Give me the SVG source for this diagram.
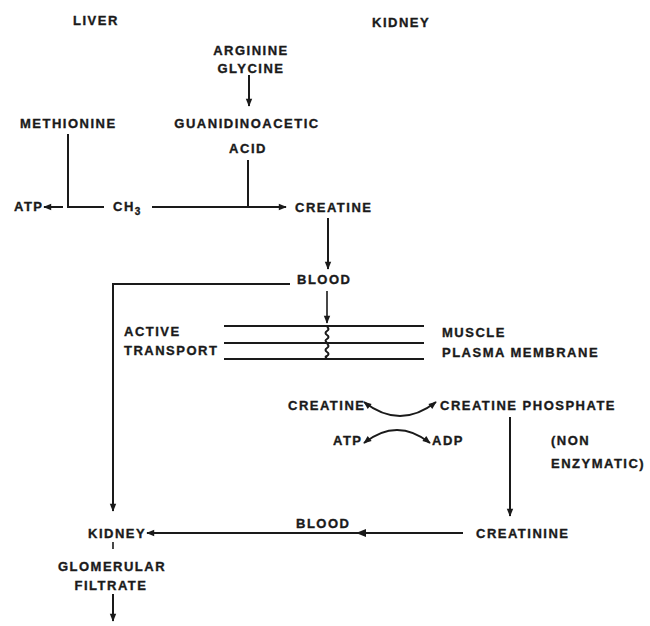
<svg xmlns="http://www.w3.org/2000/svg" width="650" height="626" viewBox="0 0 650 626">
<style>
text{font-family:"Liberation Sans",Arial,sans-serif;font-weight:bold;font-size:13px;letter-spacing:1.5px;fill:#1a1a1a;stroke:#1a1a1a;stroke-width:0.35px}
.m{text-anchor:middle}
.ln{stroke:#1a1a1a;stroke-width:2;fill:none}
.th{stroke:#1a1a1a;stroke-width:1.6;fill:none}
</style>
<defs>
<marker id="ahb" viewBox="0 0 10 10" refX="9" refY="5" markerWidth="10" markerHeight="8" orient="auto-start-reverse" markerUnits="userSpaceOnUse">
<path d="M0,1 L10,5 L0,9 Z" fill="#1a1a1a"/>
</marker>
</defs>
<rect width="650" height="626" fill="#fff"/>

<g id="connectors">
<line class="ln" x1="249" y1="75" x2="249" y2="106" marker-end="url(#ahb)"/>
<polyline class="ln" points="68,134 68,207 104,207"/>
<line class="ln" x1="63" y1="207" x2="44" y2="207" marker-end="url(#ahb)"/>
<line class="ln" x1="152" y1="207" x2="286" y2="207" marker-end="url(#ahb)"/>
<line class="ln" x1="248" y1="160" x2="248" y2="207"/>
<line class="ln" x1="328" y1="218" x2="328" y2="269" marker-end="url(#ahb)"/>
<polyline class="ln" points="290,284 113,284 113,511" marker-end="url(#ahb)"/>
<line class="th" x1="327" y1="291" x2="327" y2="323" marker-end="url(#ahb)"/>
<line class="ln" x1="224" y1="326" x2="424" y2="326"/>
<line class="ln" x1="224" y1="343" x2="424" y2="343"/>
<line class="ln" x1="224" y1="359" x2="424" y2="359"/>
<path class="ln" d="M327,327 q3,2 0,4 q-3,2 0,4 q3,2 0,4 q-3,2 0,3 M327,344 q3,2 0,4 q-3,2 0,4 q3,2 0,4 q-3,1 0,2"/>
<path class="ln" d="M364,402 Q400,430 436,402" marker-start="url(#ahb)" marker-end="url(#ahb)"/>
<path class="ln" d="M364,443 Q397,417 430,443" marker-start="url(#ahb)" marker-end="url(#ahb)"/>
<line class="ln" x1="510" y1="417" x2="510" y2="516" marker-end="url(#ahb)"/>
<line class="ln" x1="463" y1="533" x2="147" y2="533" marker-end="url(#ahb)"/>
<path d="M356,533 L366,529 L366,537 Z" fill="#1a1a1a"/>
<line class="th" x1="113" y1="542" x2="113" y2="549"/>
<line class="ln" x1="113" y1="594" x2="113" y2="621" marker-end="url(#ahb)"/>
</g>

<g id="liver"><text x="73" y="25">LIVER</text></g>
<g id="kidney-top"><text x="372" y="27">KIDNEY</text></g>
<g id="arginine"><text class="m" x="251" y="55">ARGININE</text><text class="m" x="251" y="73">GLYCINE</text></g>
<g id="methionine"><text x="20" y="128">METHIONINE</text></g>
<g id="guanidinoacetic"><text class="m" x="247" y="128">GUANIDINOACETIC</text><text class="m" x="248" y="153">ACID</text></g>
<g id="atp1"><text x="14" y="211">ATP</text></g>
<g id="ch3"><text x="113" y="211">CH<tspan font-size="10" dy="4">3</tspan></text></g>
<g id="creatine1"><text x="295" y="212">CREATINE</text></g>
<g id="blood1"><text x="297" y="284">BLOOD</text></g>
<g id="active"><text x="124" y="336">ACTIVE</text><text x="124" y="355">TRANSPORT</text></g>
<g id="muscle"><text x="442" y="337">MUSCLE</text><text x="442" y="357">PLASMA MEMBRANE</text></g>
<g id="creatine2"><text x="288" y="410">CREATINE</text></g>
<g id="creatine-phosphate"><text x="440" y="410">CREATINE PHOSPHATE</text></g>
<g id="atp2"><text x="333" y="445">ATP</text></g>
<g id="adp"><text x="432" y="445">ADP</text></g>
<g id="nonenzymatic"><text x="551" y="445">(NON</text><text x="551" y="468">ENZYMATIC)</text></g>
<g id="creatinine"><text x="476" y="538">CREATININE</text></g>
<g id="blood2"><text x="296" y="528">BLOOD</text></g>
<g id="kidney"><text x="88" y="538">KIDNEY</text></g>
<g id="glomerular"><text class="m" x="112" y="571">GLOMERULAR</text><text class="m" x="111" y="590">FILTRATE</text></g>
</svg>
